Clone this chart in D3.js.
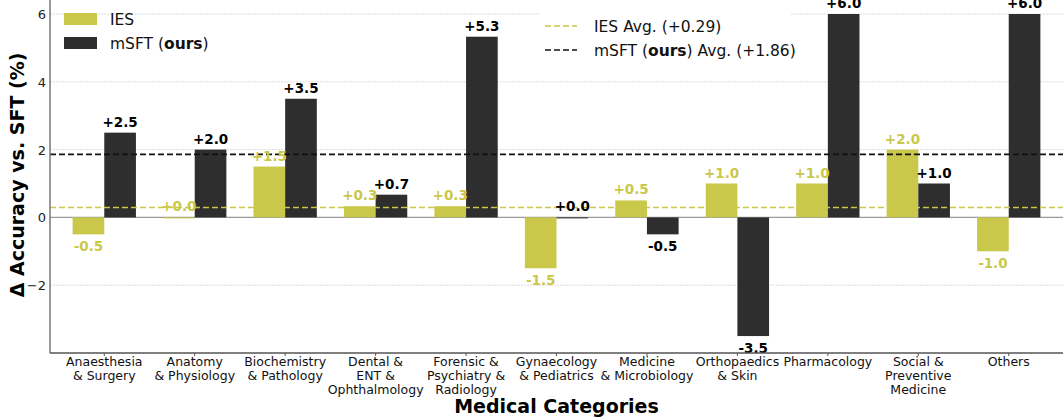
<!DOCTYPE html>
<html>
<head>
<meta charset="utf-8">
<script src="https://cdn.jsdelivr.net/npm/d3@7"></script>
<style>
  body { margin: 0; background: #fff; }
  text { font-family: "DejaVu Sans", sans-serif; }
</style>
</head>
<body>
<svg id="chart" width="1063" height="419"></svg>
<script>
// Categories (multi-line tick labels)
var categories = [
    ["Anaesthesia", "& Surgery"],
    ["Anatomy", "& Physiology"],
    ["Biochemistry", "& Pathology"],
    ["Dental &", "ENT &", "Ophthalmology"],
    ["Forensic &", "Psychiatry &", "Radiology"],
    ["Gynaecology", "& Pediatrics"],
    ["Medicine", "& Microbiology"],
    ["Orthopaedics", "& Skin"],
    ["Pharmacology"],
    ["Social &", "Preventive", "Medicine"],
    ["Others"]
];

// Delta accuracy vs SFT (%)
var iesValues  = [-0.5, 0.0, 1.5, 0.33, 0.33, -1.5, 0.5, 1.0, 1.0, 2.0, -1.0];
var msftValues = [2.5, 2.0, 3.5, 0.67, 5.33, 0.0, -0.5, -3.5, 6.0, 1.0, 6.0];

// Averages shown as dashed lines
var iesAvg = 0.29;
var msftAvg = 1.86;

var yTicks = [-2, 0, 2, 4, 6];

var olive = "#c9c84a";
var dark = "#2e2e2e";

// Plot setup
var svg = d3.select("#chart");
var left = 50, right = 1063, bottom = 353;

var x = d3.scaleLinear()
    .domain([-0.6, categories.length - 0.4])
    .range([left, right]);

var y = d3.scaleLinear()
    .domain([-4, 6])
    .range([bottom, 14]);

var barW = x(0.35) - x(0);
// matplotlib-style label: plain hyphen for negatives
var fmt = function(d) { return (d >= 0 ? "+" : "-") + Math.abs(d).toFixed(1); };

// Gridlines
svg.append("g")
    .selectAll("line")
    .data(yTicks.filter(function(d) { return d !== 0; }))
    .enter().append("line")
    .attr("x1", left).attr("x2", right)
    .attr("y1", function(d) { return y(d); })
    .attr("y2", function(d) { return y(d); })
    .attr("stroke", "#dcdcdc")
    .attr("stroke-width", 1)
    .attr("stroke-dasharray", "2,1");

// Zero line
svg.append("line")
    .attr("x1", left).attr("x2", right)
    .attr("y1", y(0)).attr("y2", y(0))
    .attr("stroke", "#9a9a9a")
    .attr("stroke-width", 1.2);

// Bars
svg.append("g")
    .selectAll("rect")
    .data(iesValues)
    .enter().append("rect")
    .attr("x", function(d, i) { return x(i) - barW; })
    .attr("y", function(d) { return y(Math.max(0, d)); })
    .attr("width", barW)
    .attr("height", function(d) { return Math.max(Math.abs(y(d) - y(0)), 1); })
    .attr("fill", olive);

svg.append("g")
    .selectAll("rect")
    .data(msftValues)
    .enter().append("rect")
    .attr("x", function(d, i) { return x(i); })
    .attr("y", function(d) { return y(Math.max(0, d)); })
    .attr("width", barW)
    .attr("height", function(d) { return Math.max(Math.abs(y(d) - y(0)), 1); })
    .attr("fill", dark);

// Average lines
svg.append("line")
    .attr("x1", left).attr("x2", right)
    .attr("y1", y(iesAvg)).attr("y2", y(iesAvg))
    .attr("stroke", olive)
    .attr("stroke-width", 1.6)
    .attr("stroke-dasharray", "6,3");

svg.append("line")
    .attr("x1", left).attr("x2", right)
    .attr("y1", y(msftAvg)).attr("y2", y(msftAvg))
    .attr("stroke", "#111")
    .attr("stroke-width", 1.6)
    .attr("stroke-dasharray", "6,3");

// Value labels
function addLabels(values, offset, color) {
    svg.append("g")
        .selectAll("text")
        .data(values)
        .enter().append("text")
        .attr("x", function(d, i) { return x(i) + offset; })
        .attr("y", function(d) { return d >= 0 ? y(d) - 6 : y(d) + 17; })
        .attr("text-anchor", "middle")
        .attr("font-size", 13.5)
        .attr("font-weight", "bold")
        .attr("fill", color)
        .text(fmt);
}
addLabels(iesValues, -barW / 2, olive);
addLabels(msftValues, barW / 2, "#000");

// Spines
svg.append("line")
    .attr("x1", left).attr("x2", left)
    .attr("y1", 0).attr("y2", bottom)
    .attr("stroke", "#777").attr("stroke-width", 1.5);
svg.append("line")
    .attr("x1", left).attr("x2", right)
    .attr("y1", bottom).attr("y2", bottom)
    .attr("stroke", "#555").attr("stroke-width", 1.5);

// Y ticks
svg.append("g")
    .selectAll("text")
    .data(yTicks)
    .enter().append("text")
    .attr("x", left - 4)
    .attr("y", function(d) { return y(d) + 5; })
    .attr("text-anchor", "end")
    .attr("font-size", 13)
    .attr("fill", "#222")
    .text(function(d) { return d < 0 ? "\u2212" + Math.abs(d) : d; });

// X tick labels
var xt = svg.append("g")
    .selectAll("g")
    .data(categories)
    .enter().append("g");

xt.append("line")
    .attr("x1", function(d, i) { return x(i); })
    .attr("x2", function(d, i) { return x(i); })
    .attr("y1", bottom).attr("y2", bottom + 3)
    .attr("stroke", "#555");

xt.append("text")
    .attr("text-anchor", "middle")
    .attr("font-size", 12.5)
    .attr("fill", "#111")
    .each(function(d, i) {
        var t = d3.select(this);
        d.forEach(function(line, k) {
            t.append("tspan")
                .attr("x", x(i))
                .attr("y", bottom + 13 + k * 14)
                .text(line);
        });
    });

// Axis titles
svg.append("text")
    .attr("x", (left + right) / 2)
    .attr("y", 413)
    .attr("text-anchor", "middle")
    .attr("font-size", 19)
    .attr("font-weight", "bold")
    .text("Medical Categories");

svg.append("text")
    .attr("transform", "translate(24," + 175 + ") rotate(-90)")
    .attr("text-anchor", "middle")
    .attr("font-size", 19)
    .attr("font-weight", "bold")
    .text("\u0394 Accuracy vs. SFT (%)");

// Left legend (bars)
var legBars = [
    {color: olive, parts: [["IES", "normal"]]},
    {color: dark, parts: [["mSFT (", "normal"], ["ours", "bold"], [")", "normal"]]}
];
legBars.forEach(function(d, k) {
    svg.append("rect")
        .attr("x", 64).attr("y", 13 + k * 24)
        .attr("width", 33).attr("height", 12)
        .attr("fill", d.color);
    var t = svg.append("text")
        .attr("x", 110).attr("y", 25 + k * 24)
        .attr("font-size", 15.5)
        .attr("fill", "#111");
    d.parts.forEach(function(p) {
        t.append("tspan").attr("font-weight", p[1]).text(p[0]);
    });
});

// Right legend (average lines)
svg.append("rect")
    .attr("x", 540).attr("y", 6)
    .attr("width", 250).attr("height", 58)
    .attr("fill", "#fff");

var legLines = [
    {color: olive, parts: [["IES Avg. (+" + iesAvg.toFixed(2) + ")", "normal"]]},
    {color: "#111", parts: [["mSFT (", "normal"], ["ours", "bold"],
                            [") Avg. (+" + msftAvg.toFixed(2) + ")", "normal"]]}
];

legLines.forEach(function(d, k) {
    svg.append("line")
        .attr("x1", 545).attr("x2", 577)
        .attr("y1", 26 + k * 24).attr("y2", 26 + k * 24)
        .attr("stroke", d.color)
        .attr("stroke-width", 1.6)
        .attr("stroke-dasharray", "6,3");
    var t = svg.append("text")
        .attr("x", 594).attr("y", 32 + k * 24)
        .attr("font-size", 15.5)
        .attr("fill", "#111");
    d.parts.forEach(function(p) {
        t.append("tspan").attr("font-weight", p[1]).text(p[0]);
    });
});
</script>
</body>
</html>
